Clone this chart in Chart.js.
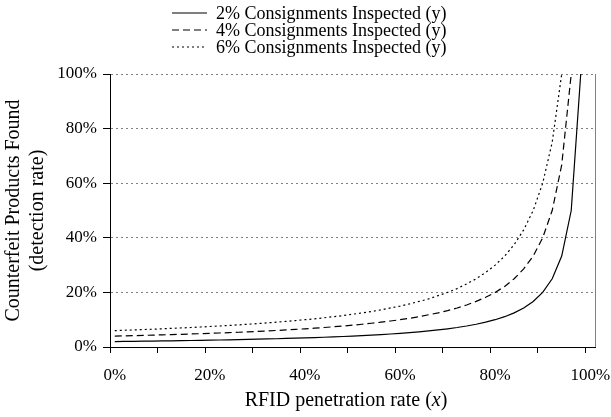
<!DOCTYPE html>
<html>
<head>
<meta charset="utf-8">
<script src="https://cdn.jsdelivr.net/npm/chart.js@4.4.0/dist/chart.umd.min.js"></script>
<style>
  body { margin: 0; background: #fff; }
</style>
</head>
<body>
<canvas id="rfidChart" width="611" height="417"></canvas>
<script>
// RFID penetration rate (x), in %
const penetrationRate = [0, 2, 4, 6, 8, 10, 12, 14, 16, 18, 20, 22, 24, 26, 28, 30, 32, 34, 36, 38, 40,
  42, 44, 46, 48, 50, 52, 54, 56, 58, 60, 62, 64, 66, 68, 70, 72, 74, 76, 78, 80,
  82, 84, 86, 88, 90, 92, 94, 96, 98, 100];

// detection rate, in %
const inspected2 = [2.0, 2.04, 2.08, 2.13, 2.17, 2.22, 2.27, 2.33, 2.38, 2.44, 2.5, 2.56, 2.63, 2.7, 2.78,
  2.86, 2.94, 3.03, 3.13, 3.23, 3.33, 3.45, 3.57, 3.7, 3.85, 4.0, 4.17, 4.35, 4.55, 4.76, 5.0, 5.26, 5.56,
  5.88, 6.25, 6.67, 7.14, 7.69, 8.33, 9.09, 10.0, 11.1, 12.5, 14.3, 16.7, 20.0, 25.0, 33.3, 50.0, 100, null];
const inspected4 = [4.0, 4.08, 4.17, 4.26, 4.35, 4.44, 4.55, 4.65, 4.76, 4.88, 5.0, 5.13, 5.26, 5.41, 5.56,
  5.71, 5.88, 6.06, 6.25, 6.45, 6.67, 6.9, 7.14, 7.41, 7.69, 8.0, 8.33, 8.7, 9.09, 9.52, 10.0, 10.5, 11.1,
  11.8, 12.5, 13.3, 14.3, 15.4, 16.7, 18.2, 20.0, 22.2, 25.0, 28.6, 33.3, 40.0, 50.0, 66.7, 100, null, null];
const inspected6 = [6.0, 6.12, 6.25, 6.38, 6.52, 6.67, 6.82, 6.98, 7.14, 7.32, 7.5, 7.69, 7.89, 8.11, 8.33,
  8.57, 8.82, 9.09, 9.38, 9.68, 10.0, 10.3, 10.7, 11.1, 11.5, 12.0, 12.5, 13.0, 13.6, 14.3, 15.0, 15.8, 16.7,
  17.6, 18.8, 20.0, 21.4, 23.1, 25.0, 27.3, 30.0, 33.3, 37.5, 42.9, 50.0, 60.0, 75.0, 100, null, null, null];

const yTicks = [0, 20, 40, 60, 80, 100];

const seriesNames = [
  "2% Consignments Inspected (y)",
  "4% Consignments Inspected (y)",
  "6% Consignments Inspected (y)",
];

const serif = "'Liberation Serif', 'Times New Roman', serif";

// legend stacked in one column above the plot
const stackedLegend = {
  id: "stackedLegend",
  afterDraw(chart) {
    const ctx = chart.ctx;
    ctx.save();
    ctx.font = "18px " + serif;
    ctx.fillStyle = "#000";
    ctx.textBaseline = "middle";
    chart.data.datasets.forEach((ds, i) => {
      const y = 13 + i * 17;
      ctx.strokeStyle = "#000";
      ctx.lineWidth = 1.2;
      ctx.setLineDash(ds.borderDash || []);
      ctx.beginPath();
      ctx.moveTo(172, y);
      ctx.lineTo(207, y);
      ctx.stroke();
      ctx.setLineDash([]);
      ctx.fillText(ds.label, 216, y + 1);
    });
    ctx.restore();
  },
};

// right frame line and x title with italic x
const frameAndTitle = {
  id: "frameAndTitle",
  afterDraw(chart) {
    const { ctx, chartArea } = chart;
    ctx.save();
    ctx.strokeStyle = "#808080";
    ctx.lineWidth = 1;
    ctx.beginPath();
    ctx.moveTo(chartArea.right + 0.5, chartArea.top);
    ctx.lineTo(chartArea.right + 0.5, chartArea.bottom);
    ctx.stroke();

    const parts = [
      ["RFID penetration rate (", "20px " + serif],
      ["x", "italic 20px " + serif],
      [")", "20px " + serif],
    ];
    let total = 0;
    parts.forEach((p) => {
      ctx.font = p[1];
      total += ctx.measureText(p[0]).width;
    });
    let x = 346 - total / 2;
    ctx.fillStyle = "#000";
    ctx.textBaseline = "middle";
    parts.forEach((p) => {
      ctx.font = p[1];
      ctx.fillText(p[0], x, 401);
      x += ctx.measureText(p[0]).width;
    });
    ctx.restore();
  },
};

new Chart(document.getElementById("rfidChart"), {
  type: "line",
  data: {
    labels: penetrationRate,
    datasets: [
      { label: seriesNames[0], data: inspected2, borderDash: [] },
      { label: seriesNames[1], data: inspected4, borderDash: [7, 4] },
      { label: seriesNames[2], data: inspected6, borderDash: [2, 3] },
    ],
  },
  options: {
    responsive: false,
    animation: false,
    layout: { padding: { top: 74, right: 16, left: 0, bottom: 0 } },
    elements: {
      point: { radius: 0 },
      line: { borderColor: "#000", borderWidth: 1.2, tension: 0 },
    },
    plugins: {
      legend: { display: false },
      tooltip: { enabled: false },
    },
    scales: {
      x: {
        type: "category",
        offset: true,
        grid: {
          offset: true,
          drawOnChartArea: false,
          tickLength: 6,
          tickColor: (c) => (c.index % 5 === 0 ? "#000" : "rgba(0,0,0,0)"),
        },
        border: { color: "#000", width: 1 },
        ticks: {
          autoSkip: false,
          maxRotation: 0,
          padding: 12,
          color: "#000",
          font: { family: serif, size: 17 },
          callback: (v, i) => (i % 10 === 0 ? penetrationRate[i] + "%" : ""),
        },
        afterFit: (s) => {
          s.height = 70;
          s.paddingLeft = 0;
          s.paddingRight = 0;
        },
      },
      y: {
        min: 0,
        max: 100,
        afterBuildTicks: (s) => {
          s.ticks = yTicks.map((v) => ({ value: v }));
        },
        grid: {
          color: (c) => (c.index === 0 ? "rgba(0,0,0,0)" : "#808080"),
          tickColor: "#000",
          tickLength: 7,
        },
        border: { color: "#000", width: 1, dash: [2, 3] },
        ticks: {
          padding: 6,
          color: "#000",
          font: { family: serif, size: 17 },
          callback: (v) => v + "%",
        },
        title: {
          display: true,
          text: ["Counterfeit Products Found", "(detection rate)"],
          color: "#000",
          font: { family: serif, size: 20 },
          padding: { top: 2, bottom: 0 },
        },
        afterFit: (s) => {
          s.width = 110;
        },
      },
    },
  },
  plugins: [stackedLegend, frameAndTitle],
});
</script>
</body>
</html>
